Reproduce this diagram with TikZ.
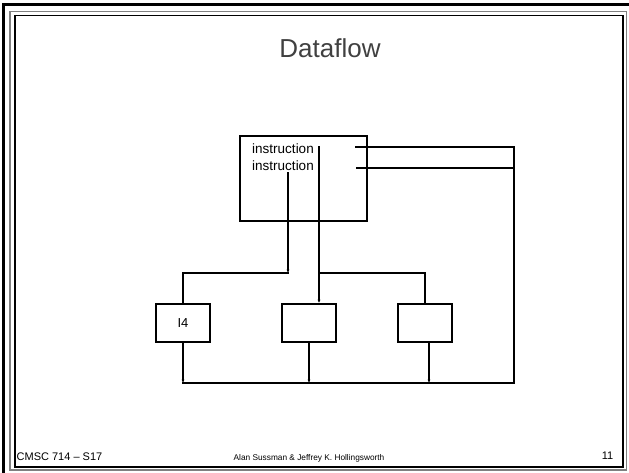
\documentclass[tikz,border=0pt]{standalone}
\usepackage{fontspec}
\setmainfont{Liberation Sans}
\usetikzlibrary{arrows.meta}
\begin{document}
\begin{tikzpicture}[x=1pt,y=-1pt,
  wire/.style={line width=1.8pt,line cap=rect},
  tip/.style={-{Latex[length=3.4pt,width=3pt]}},
  unitbox/.style={draw,line width=1.8pt,minimum width=54pt,minimum height=38pt,inner sep=0pt,font=\fontsize{13}{15}\selectfont},
  instr/.style={inner sep=0pt,font=\fontsize{13.5}{15}\selectfont}]
\useasboundingbox (0,0) rectangle (629,473);
% slide frame
\draw[line width=2.4pt] (3.5,4.5) rectangle (640,485);
\draw[line width=1.4pt,gray] (9.8,11.5) rectangle (626.5,470);
\draw[line width=1.2pt] (15,15.5) rectangle (623,467);
% title
\node[text=black!75,font=\fontsize{26}{30}\selectfont] (title) at (330,48) {Dataflow};
% instruction store
\node[draw,line width=1.8pt,minimum width=127pt,minimum height=85pt,inner sep=0pt] (store) at (303.5,178.5) {};
\node[instr] (ins1) at (283,148.5) {instruction};
\node[instr] (ins2) at (283,165.5) {instruction};
% functional units
\node[unitbox] (u1) at (183,323) {I4};
\node[unitbox] (u2) at (309,323) {};
\node[unitbox] (u3) at (425,323) {};
% wiring points
\coordinate (s1) at (319,147);
\coordinate (s2) at (288,173);
\coordinate (j1) at (288,273);
\coordinate (j2) at (319,273);
\coordinate (bl) at (183,383);
\coordinate (br) at (514,383);
\coordinate (r1) at (514,147);
\coordinate (r2) at (514,168);
\coordinate (e1) at (356,147);
\coordinate (e2) at (356,168);
\coordinate (o3) at ([xshift=4pt]u3.south);
% instructions to units
\draw[wire,tip] (s2) -- (j1);
\draw[wire] (j1) -| (u1.north);
\draw[wire,tip] (s1) -- (s1 |- u2.north);
\draw[wire] (j2) -| (u3.north);
% results back to the store
\draw[wire,tip] (u1.south) -- (u1.south |- bl);
\draw[wire,tip] (u2.south) -- (u2.south |- bl);
\draw[wire,tip] (o3) -- (o3 |- bl);
\draw[wire] (bl) -- (br) -- (r1) -- (e1);
\draw[line width=2.2pt] (r2) -- (e2);
% footer
\node[anchor=west,inner sep=0pt,font=\fontsize{11}{13}\selectfont] (course) at (16.5,457) {CMSC 714 – S17};
\node[inner sep=0pt,font=\fontsize{8.3}{10}\selectfont] (authors) at (309,458) {Alan Sussman \& Jeffrey K. Hollingsworth};
\node[anchor=east,inner sep=0pt,font=\fontsize{11}{13}\selectfont] (page) at (613.5,456) {11};
\end{tikzpicture}
\end{document}
